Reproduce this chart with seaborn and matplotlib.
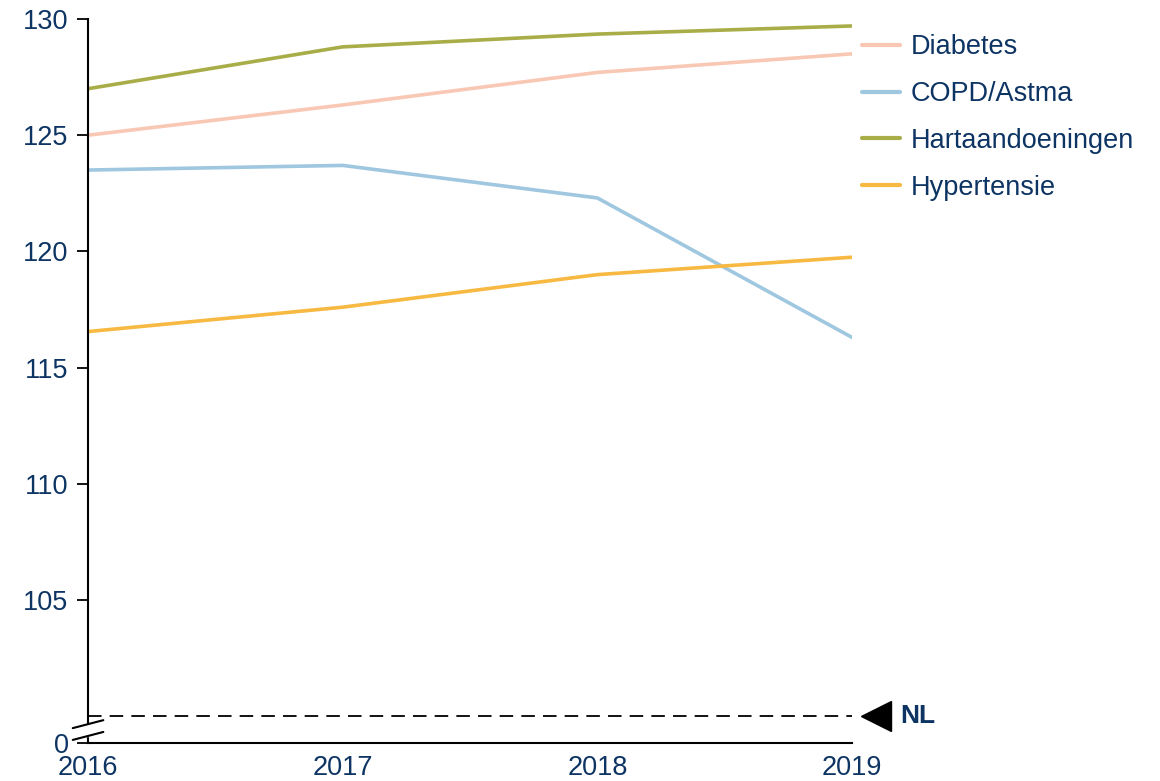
import pandas as pd
import seaborn as sns
import matplotlib.pyplot as plt
import matplotlib.transforms as mtransforms

# data (index)
years = [2016, 2017, 2018, 2019]
diabetes = [125.0, 126.3, 127.7, 128.5]
copd = [123.5, 123.7, 122.3, 116.3]
hart = [127.0, 128.8, 129.35, 129.7]
hypertensie = [116.55, 117.6, 119.0, 119.75]
nl_level = 100
ytick_vals = [105, 110, 115, 120, 125, 130]

series = {
    "Diabetes": diabetes,
    "COPD/Astma": copd,
    "Hartaandoeningen": hart,
    "Hypertensie": hypertensie,
}
colors = ["#F9C8B4", "#9FC7E0", "#A9AD48", "#F7B941"]
navy = "#0D3463"

rows = []
for name, vals in series.items():
    for y, v in zip(years, vals):
        rows.append({"jaar": y, "index": v, "groep": name})
df = pd.DataFrame(rows)

sns.set_style("white")
plt.rcParams["font.family"] = ["Liberation Sans", "DejaVu Sans"]

fig = plt.figure(figsize=(11.6, 7.81), dpi=100)
ax = fig.add_axes([0.0759, 0.0487, 0.6586, 0.927])

sns.lineplot(data=df, x="jaar", y="index", hue="groep", palette=colors,
             linewidth=2.6, ax=ax)

ybottom = 98.85
ax.set_xlim(years[0], years[-1])
ax.set_ylim(ybottom, 130)

# NL reference line
ax.axhline(nl_level, color="black", linestyle=(0, (7.5, 4.5)), linewidth=1.3)
trans = mtransforms.blended_transform_factory(ax.transAxes, ax.transData)
ax.plot([1.031], [nl_level], marker="<", markersize=21, color="black",
        transform=trans, clip_on=False)
ax.text(1.063, nl_level, "NL", transform=trans, va="center", ha="left",
        fontsize=19, fontweight="bold", color=navy)

ax.set_yticks([ybottom] + ytick_vals)
ax.set_yticklabels(["0"] + [str(v) for v in ytick_vals])
ax.set_xticks(years)
ax.set_xticklabels([str(y) for y in years])
ax.tick_params(axis="y", length=8, width=1.3, color="black", left=True,
               labelsize=19.5, labelcolor=navy, pad=6)
ax.tick_params(axis="x", length=0, labelsize=19.5, labelcolor=navy, pad=9)
ax.set_xlabel("")
ax.set_ylabel("")

for side in ["top", "right"]:
    ax.spines[side].set_visible(False)
for side in ["left", "bottom"]:
    ax.spines[side].set_color("black")
    ax.spines[side].set_linewidth(1.5)

# axis break marks
bt = ax.transAxes
gap = [0.0097, 0.026]
ax.fill_between([-0.004, 0.004], gap[0], gap[1], color="white",
                transform=bt, clip_on=False, zorder=5)
for y0 in gap:
    ax.plot([-0.02, 0.02], [y0 - 0.0055, y0 + 0.0055], color="black",
            linewidth=1.5, transform=bt, clip_on=False, zorder=6)

leg = ax.legend(loc="upper left", bbox_to_anchor=(1.013, 0.979),
                frameon=False, fontsize=19.5, handlelength=1.4,
                handletextpad=0.4, labelspacing=0.77, borderpad=0,
                borderaxespad=0)
for t in leg.get_texts():
    t.set_color(navy)
for h in leg.get_lines():
    h.set_linewidth(3)

fig.savefig("out.png", dpi=100)
